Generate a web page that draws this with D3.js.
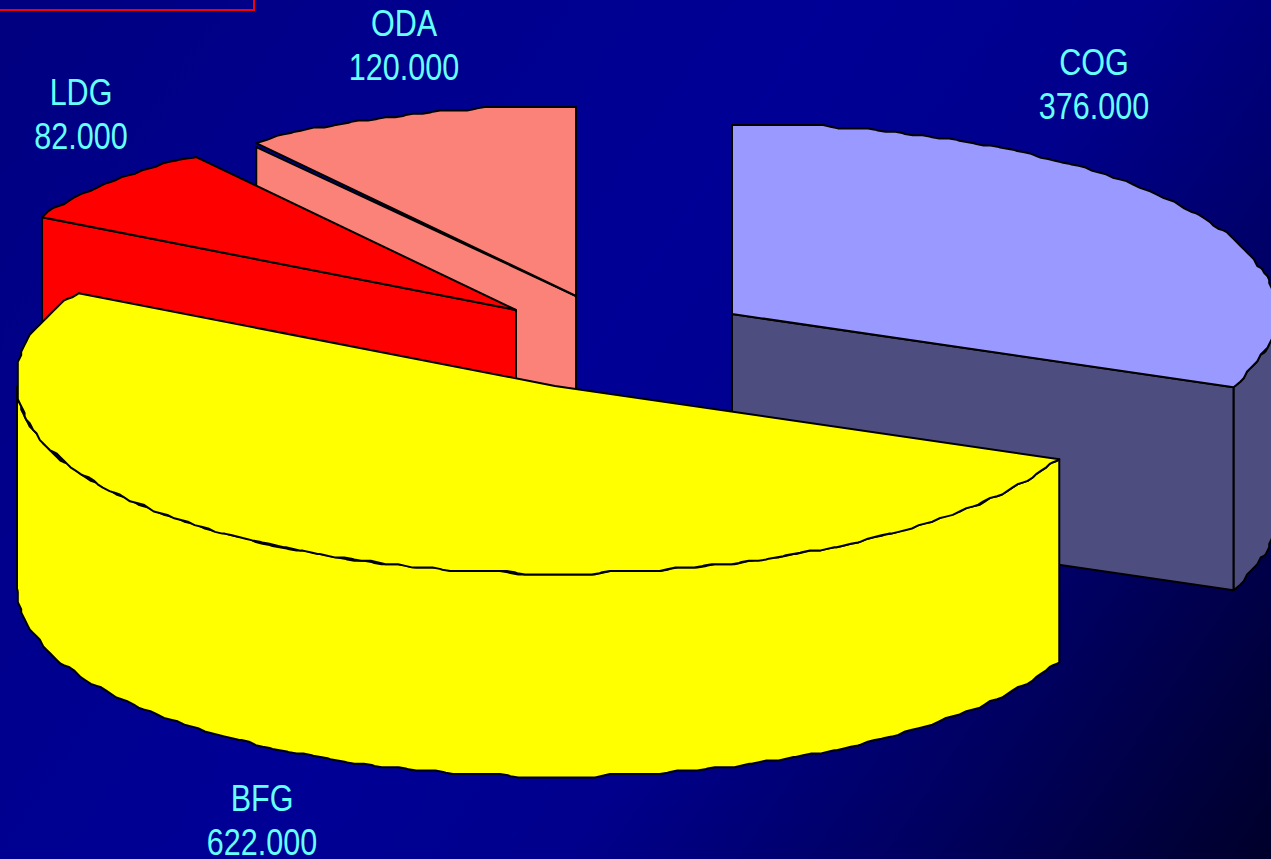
<!DOCTYPE html>
<html><head><meta charset="utf-8">
<script src="https://cdn.jsdelivr.net/npm/d3@7"></script>
<style>html,body{margin:0;padding:0;background:#000090;overflow:hidden}svg{display:block}</style>
</head><body>
<svg id="c" width="1271" height="859"></svg>
<script>
const categories = ["COG","BFG","LDG","ODA"];
const values = [376000,622000,82000,120000];
const valueLabels = ["376.000","622.000","82.000","120.000"];
const topColors = ["#9999ff","#ffff00","#ff0000","#fa8278"];
const sideColors = ["#4d4d80","#ffff00","#ff0000","#fa8278"];

const W=1271,H=859, RX=544, RY=189, DEPTH=203, STEP=3.4, CUT=4;
const apex = {COG:[732,314],BFG:[555,386],LDG:[516,310],ODA:[576,296]};
const labelPos = {COG:[1094,75],BFG:[262,811],LDG:[81,105],ODA:[404,36]};
const cutGap = {COG:0,BFG:0,LDG:0,ODA:4};

const svg=d3.select("#c");
const defs=svg.append("defs");
const g=defs.append("linearGradient").attr("id","bg")
 .attr("gradientUnits","userSpaceOnUse").attr("x1",0).attr("y1",0).attr("x2",W).attr("y2",H);
[[0,"#000080"],[0.2,"#00008c"],[0.45,"#000096"],[0.62,"#00008c"],[0.8,"#000062"],[1,"#00002a"]]
 .forEach(s=>g.append("stop").attr("offset",s[0]).attr("stop-color",s[1]));
svg.append("rect").attr("width",W).attr("height",H).attr("fill","url(#bg)");
svg.append("rect").attr("x",-4).attr("y",-4).attr("width",258).attr("height",14)
 .attr("fill","none").attr("stroke","#f00010").attr("stroke-width",2);

const pie=d3.pie().sort(null).startAngle(0).endAngle(2*Math.PI);
const arcs=pie(values);
const sx=d3.scaleLinear().domain([-1,1]).range([-RX,RX]);
const sy=d3.scaleLinear().domain([-1,1]).range([RY,-RY]);
const lineGen=d3.line();

// the front slice is a little wider on its right and narrower on its lower left
function rimScale(name,t){
  if(name!=="BFG") return 1;
  if(Math.sin(t)>=0) return 547/RX;
  const c=Math.max(0,Math.cos(t));
  return Math.min(547,538+18*c)/RX;
}
function rimRel(name,t){
  return [sx(Math.sin(t))*rimScale(name,t), sy(Math.cos(t))];
}
function rimPt(name,t){
  const [cx,cy]=apex[name], r=rimRel(name,t);
  return [cx+r[0],cy+r[1]];
}
// stepped outline, as the low-resolution original has
function rim(name,a0,a1,dy=0){
  const [cx,cy]=apex[name];
  const n=Math.max(2,Math.ceil((a1-a0)/(1*Math.PI/180)));
  const raw=d3.range(n+1).map(i=>{
    const t=a0+(a1-a0)*i/n, r=rimRel(name,t);
    if(i===0||i===n) return [cx+r[0],cy+r[1]+dy];
    const ry=Math.floor((r[1]+RY)/STEP)*STEP-RY;
    const rx=Math.round(r[0]/STEP)*STEP;
    return [cx+rx,cy+ry+dy];
  });
  const pts=raw.filter((p,i)=>i===0||p[0]!==raw[i-1][0]||p[1]!==raw[i-1][1]);
  // bevel each stair corner so steps read as short slopes
  const out=[pts[0]];
  for(let i=1;i<pts.length-1;i++){
    const a=pts[i-1],b=pts[i],c=pts[i+1];
    const la=Math.hypot(a[0]-b[0],a[1]-b[1]), lc=Math.hypot(c[0]-b[0],c[1]-b[1]);
    const da=Math.min(CUT,la/2)/la, dc=Math.min(CUT,lc/2)/lc;
    out.push([b[0]+(a[0]-b[0])*da,b[1]+(a[1]-b[1])*da]);
    out.push([b[0]+(c[0]-b[0])*dc,b[1]+(c[1]-b[1])*dc]);
  }
  out.push(pts[pts.length-1]);
  return out;
}
const face=(pts,fill,w=2)=>svg.append("path").attr("d",lineGen(pts)+"Z")
  .attr("fill",fill).attr("stroke","#000").attr("stroke-width",w).attr("stroke-linejoin","round");

const drawOrder=["ODA","LDG","COG","BFG"];
drawOrder.forEach(name=>{
  const i=categories.indexOf(name), a=arcs[i], c=apex[name];
  const a0=a.startAngle,a1=a.endAngle;
  const side=sideColors[i], top=topColors[i];
  const p0=rimPt(name,a0),p1=rimPt(name,a1);
  const w0=Math.max(a0,Math.PI/2), w1=Math.min(a1,3*Math.PI/2);
  if(name==="COG"||name==="BFG"){
    if(w1>w0){
      const up=rim(name,w0,w1,0), dn=rim(name,w0,w1,DEPTH).reverse();
      face(up.concat(dn),side);
    }
  }
  if(name==="COG"){
    face([c,p1,[p1[0],p1[1]+DEPTH],[c[0],c[1]+DEPTH]],side);
  } else if(name==="LDG"||name==="ODA"){
    const gap=cutGap[name];
    face([c,[p0[0],p0[1]+gap],[p0[0],p0[1]+DEPTH],[c[0],c[1]+DEPTH]],side);
  }
  face([c].concat(rim(name,a0,a1,0)),top);
});

categories.forEach((name,i)=>{
  const [x,y]=labelPos[name];
  const t=svg.append("g").attr("transform",`translate(${x},${y}) scale(0.825,1)`)
   .attr("font-family","'Liberation Sans',Arial,sans-serif").attr("font-size",37)
   .attr("fill","#66ffff").attr("text-anchor","middle");
  t.append("text").text(name);
  t.append("text").attr("y",44).text(valueLabels[i]);
});
</script></body></html>
